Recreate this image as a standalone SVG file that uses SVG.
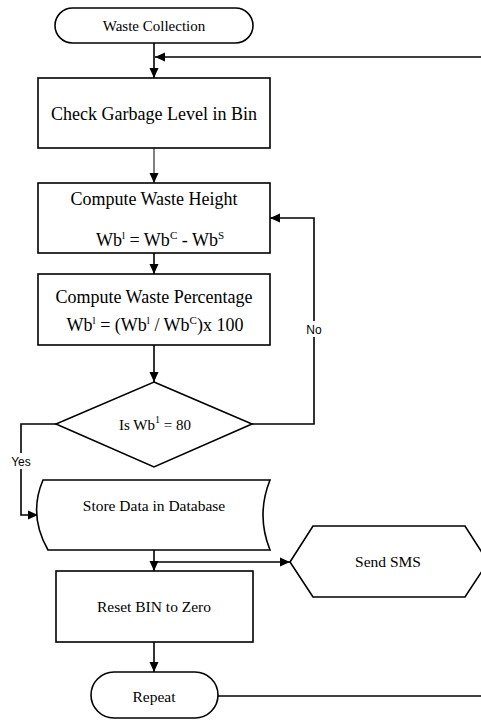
<svg xmlns="http://www.w3.org/2000/svg" width="481" height="720" viewBox="0 0 481 720">
<style>
.shape{fill:#fff;stroke:#000;stroke-width:1.6}
.t{font-family:"Liberation Serif","Times New Roman",serif;fill:#000;text-anchor:middle}
.lbl{font-family:"Liberation Sans",Arial,sans-serif;font-size:12px;fill:#000;text-anchor:middle}
.c{fill:none;stroke:#000;stroke-width:1.6}
.thin{stroke-width:1}
</style>
<defs>
<marker id="ah" markerUnits="userSpaceOnUse" markerWidth="10" markerHeight="10" viewBox="0 0 10 10" refX="10" refY="5" orient="auto">
<path d="M0,0.5 L10,5 L0,9.5 Z" fill="#000"/>
</marker>
</defs>
<rect width="481" height="720" fill="#fff"/>
<g id="connectors">
<path class="c" d="M154,43 V78" marker-end="url(#ah)"/>
<path class="c" d="M481,57 H155" marker-end="url(#ah)"/>
<path class="c thin" d="M154,148 V183" marker-end="url(#ah)"/>
<path class="c" d="M154,253 V274" marker-end="url(#ah)"/>
<path class="c" d="M154,345 V382" marker-end="url(#ah)"/>
<path class="c" d="M252,424 H314 V218 H270" marker-end="url(#ah)"/>
<path class="c" d="M56,424 H21 V515 H38" marker-end="url(#ah)"/>
<path class="c" d="M154,550 V571" marker-end="url(#ah)"/>
<path class="c" d="M154,562 H290" marker-end="url(#ah)"/>
<path class="c" d="M154,642 V672" marker-end="url(#ah)"/>
<path class="c" d="M218,696 H481"/>
<rect x="304" y="321" width="20" height="16" fill="#fff"/>
<text class="lbl" x="314" y="334">No</text>
<rect x="9" y="453" width="24" height="16" fill="#fff"/>
<text class="lbl" x="21" y="466">Yes</text>
</g>
<g id="waste-collection">
<rect class="shape" x="55" y="8" width="198" height="35" rx="17.5"/>
<text class="t" x="154" y="31" font-size="15">Waste Collection</text>
</g>
<g id="check-level">
<rect class="shape" x="38" y="78" width="232" height="70"/>
<text class="t" x="154" y="120" font-size="18">Check Garbage Level in Bin</text>
</g>
<g id="compute-height">
<rect class="shape" x="38" y="183" width="232" height="70"/>
<text class="t" x="154" y="205" font-size="18">Compute Waste Height</text>
<text class="t" x="160" y="246" font-size="18">Wb<tspan font-size="11" dy="-7">l</tspan><tspan dy="7"> = Wb</tspan><tspan font-size="11" dy="-7">C</tspan><tspan dy="7"> - Wb</tspan><tspan font-size="11" dy="-7">S</tspan></text>
</g>
<g id="compute-percentage">
<rect class="shape" x="38" y="274" width="232" height="71"/>
<text class="t" x="154" y="303" font-size="18">Compute Waste Percentage</text>
<text class="t" x="155" y="331" font-size="18">Wb<tspan font-size="11" dy="-7">l</tspan><tspan dy="7"> = (Wb</tspan><tspan font-size="11" dy="-7">l</tspan><tspan dy="7"> / Wb</tspan><tspan font-size="11" dy="-7">C</tspan><tspan dy="7">)x 100</tspan></text>
</g>
<g id="decision">
<polygon class="shape" points="154,382 252,424 154,467 56,424"/>
<text class="t" x="155" y="430" font-size="15">Is Wb<tspan font-size="10" dy="-7">1</tspan><tspan dy="7"> = 80</tspan></text>
</g>
<g id="store-data">
<path class="shape" d="M43,480 H270 Q256,515 270,550 H48 Q28,515 43,480 Z"/>
<text class="t" x="154" y="511" font-size="15.5">Store Data in Database</text>
</g>
<g id="send-sms">
<polygon class="shape" points="290,562 313,526 465,526 488,562 465,597 313,597"/>
<text class="t" x="388" y="567" font-size="15.5">Send SMS</text>
</g>
<g id="reset-bin">
<rect class="shape" x="56" y="571" width="197" height="71"/>
<text class="t" x="154" y="612" font-size="15.5">Reset BIN to Zero</text>
</g>
<g id="repeat">
<rect class="shape" x="91" y="672" width="127" height="46" rx="23"/>
<text class="t" x="154" y="702" font-size="15.5">Repeat</text>
</g>
</svg>
